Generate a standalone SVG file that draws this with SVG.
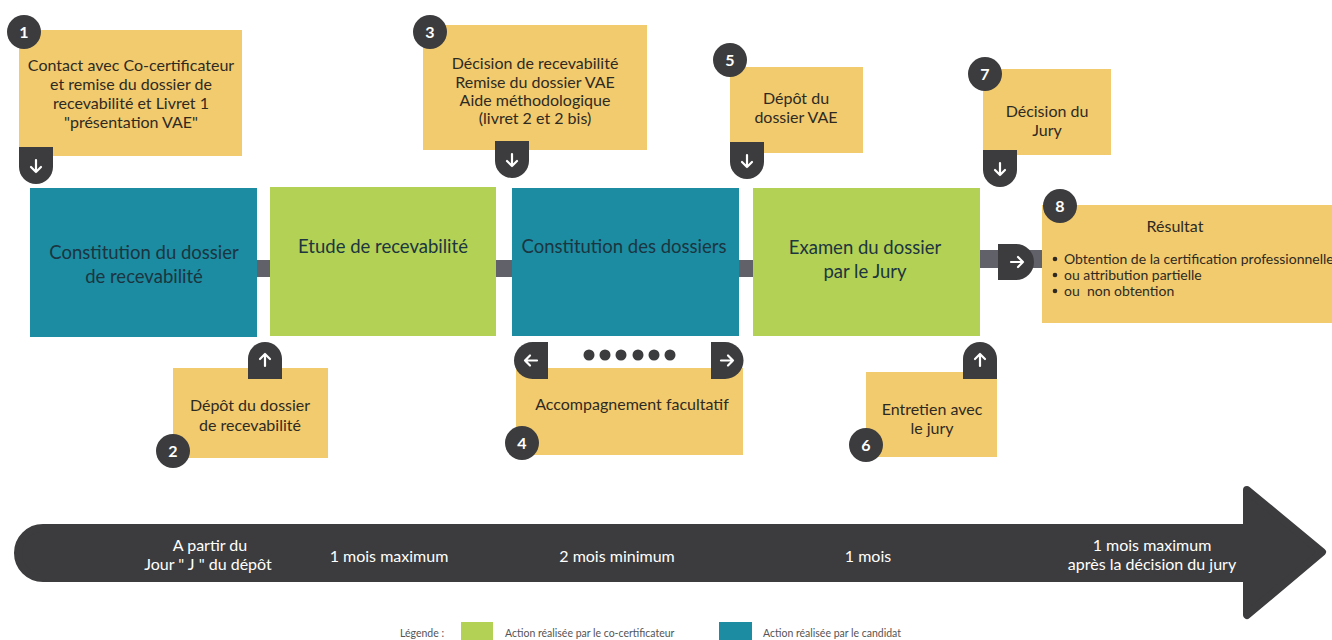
<svg xmlns="http://www.w3.org/2000/svg" xmlns:xlink="http://www.w3.org/1999/xlink" width="1332" height="640" viewBox="0 0 1332 640">
<style>
.note{fill:#F2CB6E}
.teal{fill:#1B8CA1}
.green{fill:#B2D155}
.dark{fill:#3C3C3E}
.bar{fill:#606169}
.num{font-family:Lato,"Liberation Sans",sans-serif;font-size:16px;font-weight:bold;fill:#fff;text-anchor:middle}
.nt{font-family:Lato,"Liberation Sans",sans-serif;font-size:16px;fill:#2E2A22;text-anchor:middle}
.bt{font-family:Lato,"Liberation Sans",sans-serif;font-size:18.5px;fill:#1C3540;text-anchor:middle}
.rt{font-family:Lato,"Liberation Sans",sans-serif;font-size:14px;fill:#2E2A22}
.tl{font-family:Lato,"Liberation Sans",sans-serif;font-size:16px;fill:#fff;text-anchor:middle}
.lg{font-family:Lato,"Liberation Sans",sans-serif;font-size:10.5px;fill:#555}
.ar{fill:none;stroke:#fff;stroke-width:2.2;stroke-linecap:round;stroke-linejoin:round}
</style>
<defs>
<path id="arrD" class="ar" d="M0,-6 V6 M-5,1 L0,6 L5,1"/>
</defs>

<g id="connectors">
<rect class="bar" x="256" y="260" width="15" height="17"/>
<rect class="bar" x="495" y="260" width="18" height="17"/>
<rect class="bar" x="738" y="260" width="16" height="17"/>
<rect class="bar" x="979" y="250" width="64" height="18"/>
<path class="dark" d="M998,244 H1016 A18,18 0 0 1 1016,280 H998 Z"/>
<use href="#arrD" transform="translate(1017,262) rotate(-90)"/>
</g>

<g id="step-a">
<rect class="teal" x="30" y="188" width="227" height="149"/>
<text class="bt" x="144" y="259">Constitution du dossier</text>
<text class="bt" x="144" y="283">de recevabilité</text>
</g>
<g id="step-b">
<rect class="green" x="270" y="187" width="226" height="149"/>
<text class="bt" x="383" y="253">Etude de recevabilité</text>
</g>
<g id="step-c">
<rect class="teal" x="512" y="188" width="227" height="148"/>
<text class="bt" x="624" y="253">Constitution des dossiers</text>
</g>
<g id="step-d">
<rect class="green" x="753" y="188" width="227" height="148"/>
<text class="bt" x="865" y="254">Examen du dossier</text>
<text class="bt" x="865" y="278">par le Jury</text>
</g>

<g id="note-1">
<rect class="note" x="19" y="30" width="223" height="126"/>
<text class="nt" x="131" y="71">Contact avec Co-certificateur</text>
<text class="nt" x="131" y="90">et remise du dossier de</text>
<text class="nt" x="131" y="109">recevabilité et Livret 1</text>
<text class="nt" x="131" y="128">"présentation VAE"</text>
<circle class="dark" cx="24" cy="32" r="17"/>
<text class="num" x="24" y="38">1</text>
<path class="dark" d="M19,147 h34 v20 a17,17 0 0 1 -34,0 z"/>
<use href="#arrD" transform="translate(36,166)"/>
</g>

<g id="note-2">
<rect class="note" x="173" y="368" width="155" height="90"/>
<text class="nt" x="250" y="411">Dépôt du dossier</text>
<text class="nt" x="250" y="431">de recevabilité</text>
<circle class="dark" cx="173" cy="451" r="17"/>
<text class="num" x="173" y="457">2</text>
<path class="dark" d="M248,379 v-20 a17,17 0 0 1 34,0 v20 z"/>
<use href="#arrD" transform="translate(265,360) rotate(180)"/>
</g>

<g id="note-3">
<rect class="note" x="423" y="25" width="224" height="125"/>
<text class="nt" x="535" y="69">Décision de recevabilité</text>
<text class="nt" x="535" y="88">Remise du dossier VAE</text>
<text class="nt" x="535" y="106">Aide méthodologique</text>
<text class="nt" x="535" y="124">(livret 2 et 2 bis)</text>
<circle class="dark" cx="430" cy="32" r="17"/>
<text class="num" x="430" y="38">3</text>
<path class="dark" d="M495,141 h34 v20 a17,17 0 0 1 -34,0 z"/>
<use href="#arrD" transform="translate(512,160)"/>
</g>

<g id="note-4">
<rect class="note" x="516" y="368" width="227" height="87"/>
<text class="nt" x="632" y="410">Accompagnement facultatif</text>
<circle class="dark" cx="522" cy="443" r="17"/>
<text class="num" x="522" y="449">4</text>
<path class="dark" d="M548,342 H532.5 A18.5,18.5 0 0 0 532.5,379 H548 Z"/>
<use href="#arrD" transform="translate(531,360.5) rotate(90)"/>
<path class="dark" d="M711,342 H725 A18.5,18.5 0 0 1 725,379 H711 Z"/>
<use href="#arrD" transform="translate(727,360.5) rotate(-90)"/>
<circle class="dark" cx="589" cy="355" r="5.5"/>
<circle class="dark" cx="605" cy="355" r="5.5"/>
<circle class="dark" cx="621" cy="355" r="5.5"/>
<circle class="dark" cx="638" cy="355" r="5.5"/>
<circle class="dark" cx="654" cy="355" r="5.5"/>
<circle class="dark" cx="670" cy="355" r="5.5"/>
</g>

<g id="note-5">
<rect class="note" x="730" y="67" width="133" height="86"/>
<text class="nt" x="796" y="104">Dépôt du</text>
<text class="nt" x="796" y="123">dossier VAE</text>
<circle class="dark" cx="730" cy="60" r="17"/>
<text class="num" x="730" y="66">5</text>
<path class="dark" d="M730,142 h34 v20 a17,17 0 0 1 -34,0 z"/>
<use href="#arrD" transform="translate(747,161)"/>
</g>

<g id="note-6">
<rect class="note" x="866" y="372" width="131" height="85"/>
<text class="nt" x="932" y="415">Entretien avec</text>
<text class="nt" x="932" y="434">le jury</text>
<circle class="dark" cx="866" cy="445" r="17"/>
<text class="num" x="866" y="451">6</text>
<path class="dark" d="M963,379 v-20 a17,17 0 0 1 34,0 v20 z"/>
<use href="#arrD" transform="translate(980,360) rotate(180)"/>
</g>

<g id="note-7">
<rect class="note" x="983" y="69" width="128" height="86"/>
<text class="nt" x="1047" y="117">Décision du</text>
<text class="nt" x="1047" y="136">Jury</text>
<circle class="dark" cx="985" cy="74" r="17"/>
<text class="num" x="985" y="80">7</text>
<path class="dark" d="M983,150 h34 v20 a17,17 0 0 1 -34,0 z"/>
<use href="#arrD" transform="translate(1000,169)"/>
</g>

<g id="note-8">
<rect class="note" x="1042" y="205" width="290" height="118"/>
<text class="nt" x="1175" y="232">Résultat</text>
<circle class="dark" cx="1060" cy="206" r="17"/>
<text class="num" x="1060" y="212">8</text>
<circle cx="1055" cy="259" r="2.3" fill="#2E2A22"/>
<circle cx="1055" cy="275" r="2.3" fill="#2E2A22"/>
<circle cx="1055" cy="291" r="2.3" fill="#2E2A22"/>
<text class="rt" x="1064" y="264">Obtention de la certification professionnelle</text>
<text class="rt" x="1064" y="280">ou attribution partielle</text>
<text class="rt" x="1064" y="296" xml:space="preserve">ou  non obtention</text>
</g>

<g id="timeline">
<path fill="#3C3C3E" stroke="#3C3C3E" stroke-width="8" stroke-linejoin="round" d="M43,528 H1247 V490 L1322,552 L1247,615 V578 H43 A25,25 0 0 1 43,528 Z"/>
<text class="tl" x="210" y="551">A partir  du</text>
<text class="tl" x="208" y="570">Jour " J " du dépôt</text>
<text class="tl" x="389" y="562">1 mois maximum</text>
<text class="tl" x="617" y="562">2 mois minimum</text>
<text class="tl" x="868" y="562">1 mois</text>
<text class="tl" x="1152" y="551">1 mois maximum</text>
<text class="tl" x="1152" y="570">après la décision du jury</text>
</g>

<g id="legend">
<text class="lg" x="400" y="637">Légende :</text>
<rect class="green" x="461" y="622" width="32" height="18"/>
<text class="lg" x="505" y="637">Action réalisée par le co-certificateur</text>
<rect class="teal" x="719" y="622" width="33" height="18"/>
<text class="lg" x="763" y="637">Action réalisée par le candidat</text>
</g>
</svg>
